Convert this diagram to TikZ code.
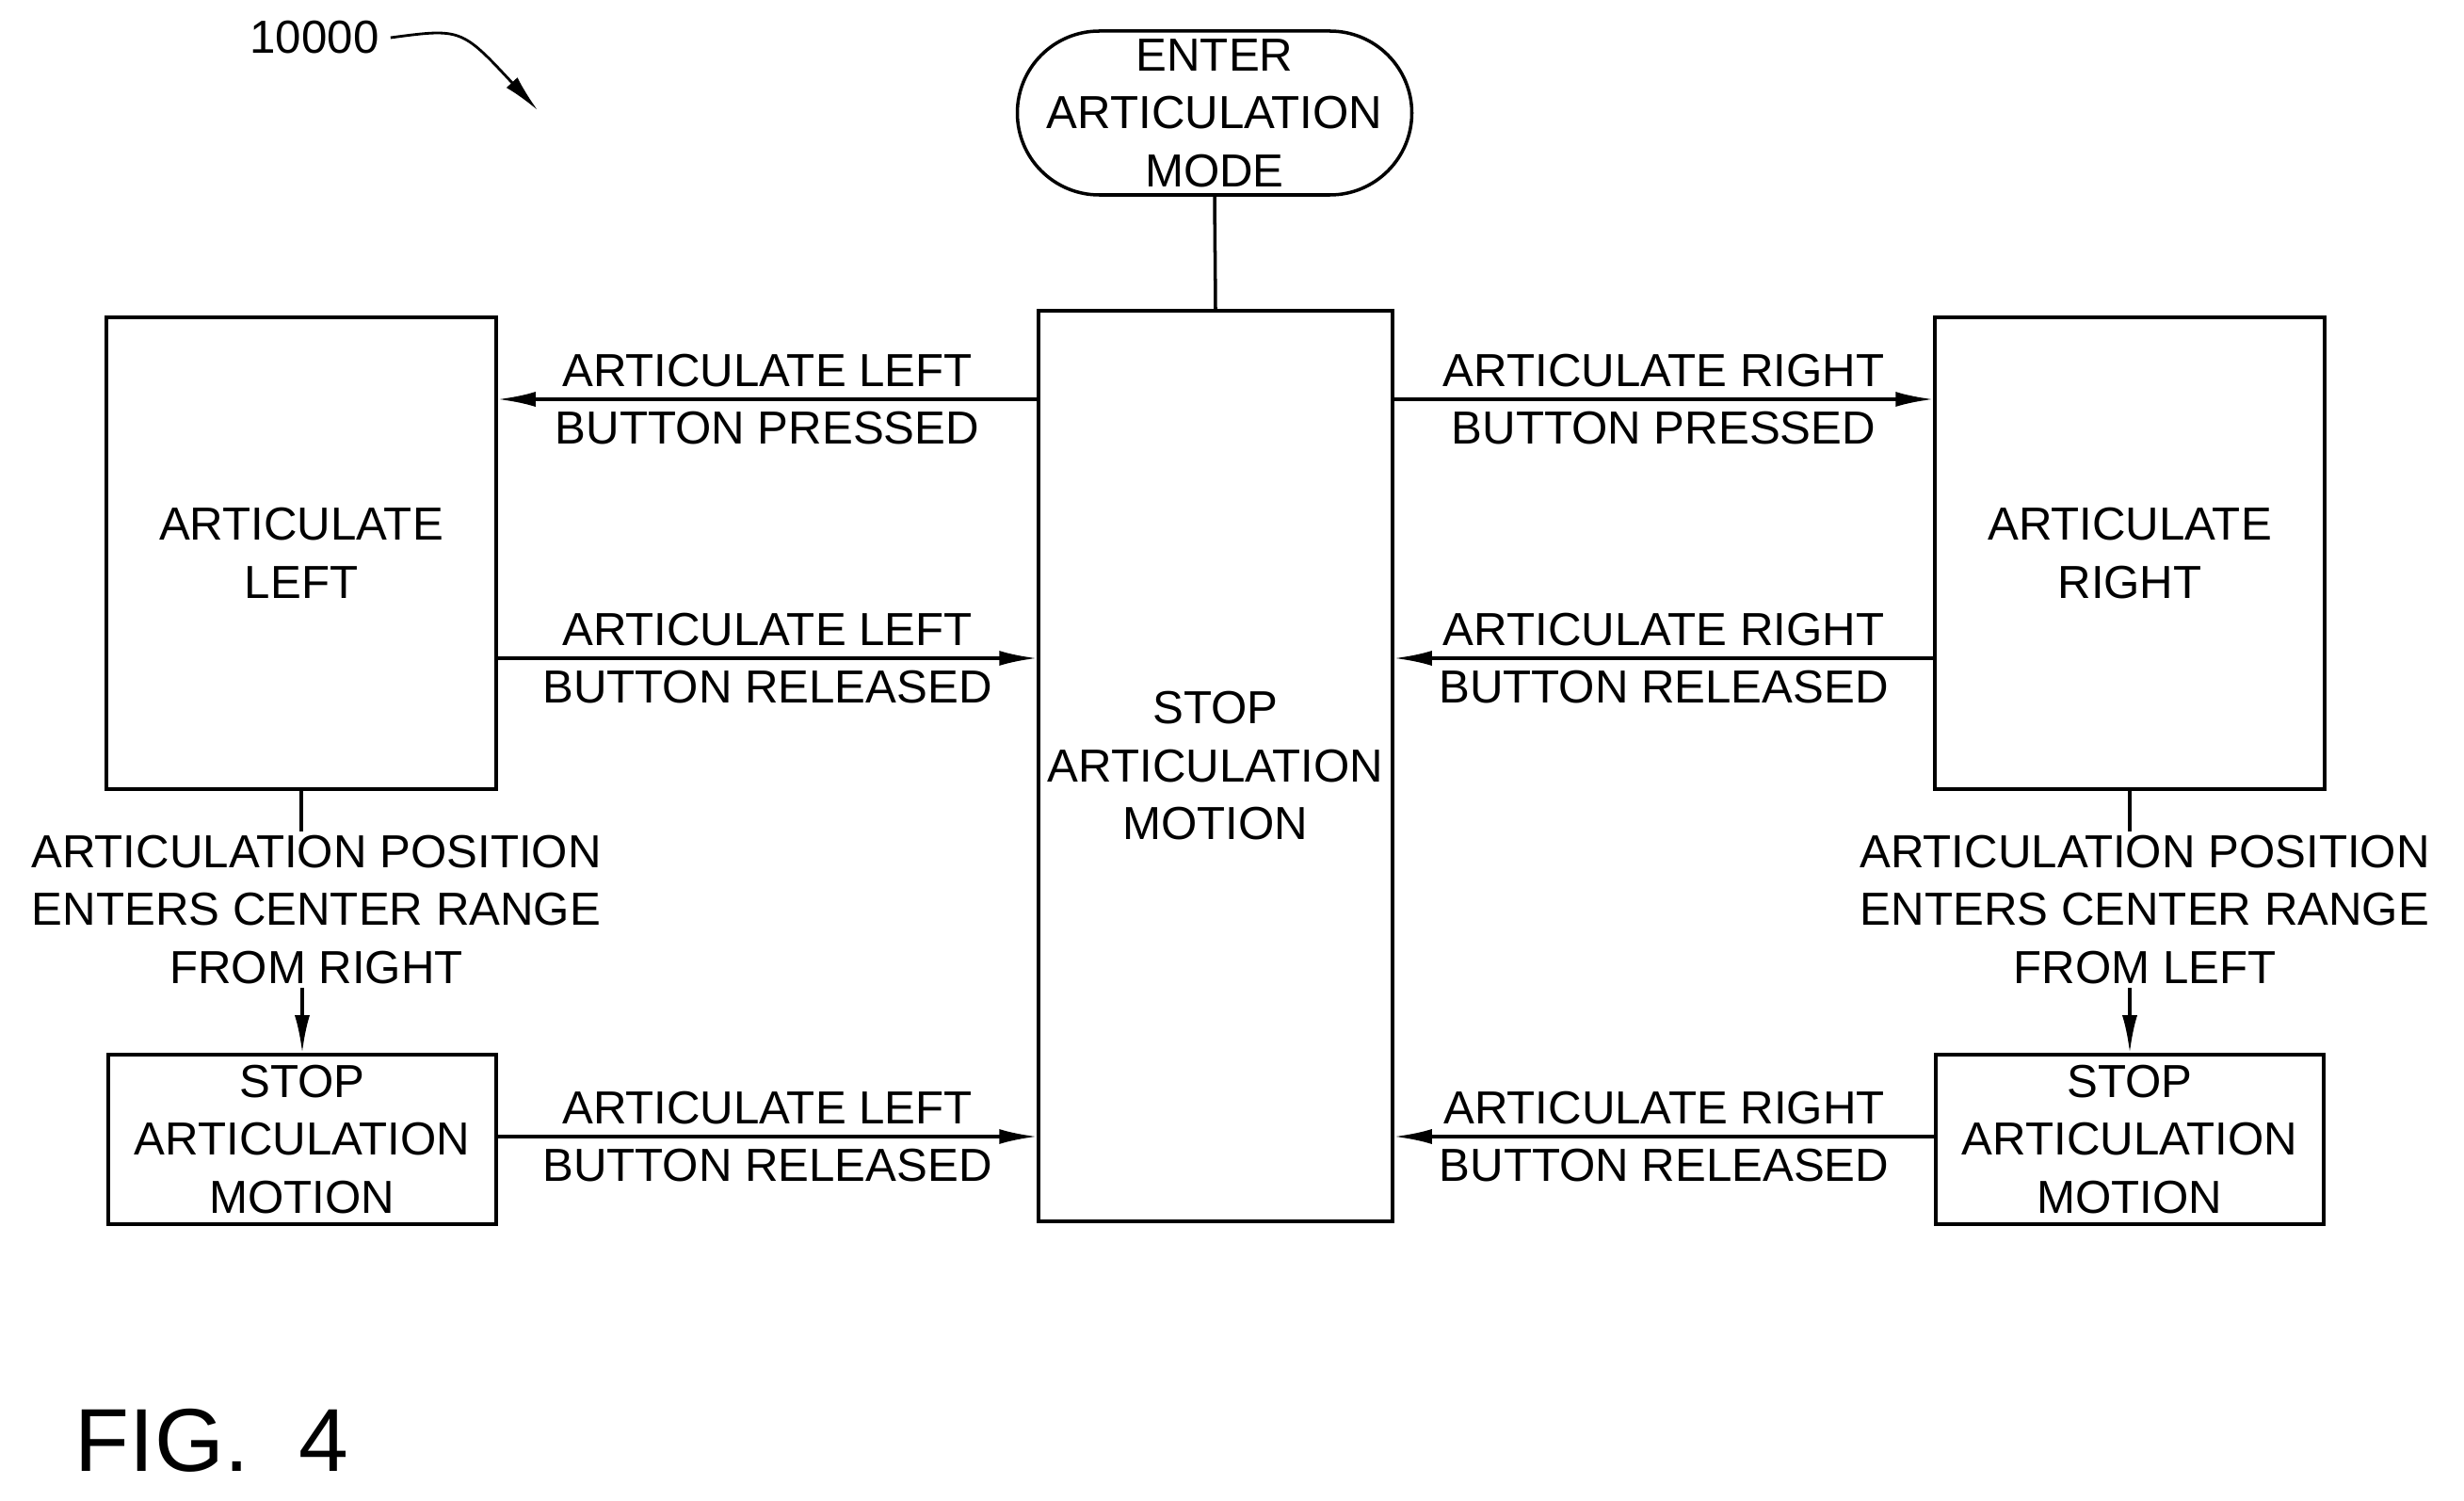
\documentclass[tikz,border=0pt]{standalone}
\usepackage{fontspec}
\setmainfont{Liberation Sans}
\usetikzlibrary{arrows.meta,positioning}
\tikzset{
  box/.style={draw,line width=1pt,align=center,inner sep=0pt},
  lbl/.style={align=center,font=\fontsize{14}{17.5}\selectfont,inner sep=1pt},
  arr/.style={line width=1pt,-{Latex[length=4mm,width=1.6mm]}}
}
\begin{document}
\begin{tikzpicture}[font=\fontsize{14}{17.5}\selectfont]
  \useasboundingbox (0,0) rectangle (26.17,-15.94);

  % States
  \node[box,rounded corners=0.87cm,minimum width=4.19cm,minimum height=1.74cm] (start) at (12.90,-1.20) {ENTER\\ARTICULATION\\MODE};
  \node[box,minimum width=3.76cm,minimum height=9.67cm] (stop) at (12.91,-8.135) {STOP\\ARTICULATION\\MOTION};
  \node[box,minimum width=4.14cm,minimum height=5.01cm] (left) at (3.20,-5.875) {ARTICULATE\\LEFT};
  \node[box,minimum width=4.14cm,minimum height=5.01cm] (right) at (22.62,-5.875) {ARTICULATE\\RIGHT};
  \node[box,minimum width=4.12cm,minimum height=1.80cm] (lstop) at (3.21,-12.10) {STOP\\ARTICULATION\\MOTION};
  \node[box,minimum width=4.12cm,minimum height=1.80cm] (rstop) at (22.62,-12.10) {STOP\\ARTICULATION\\MOTION};

  \draw[line width=1pt] (start.south) -- (stop.north);

  % Transitions to and from the center
  \draw[arr] (stop.west |- 0,-4.24) -- (left.east |- 0,-4.24) node[lbl,midway] {ARTICULATE LEFT\\BUTTON PRESSED};
  \draw[arr] (stop.east |- 0,-4.24) -- (right.west |- 0,-4.24) node[lbl,midway] {ARTICULATE RIGHT\\BUTTON PRESSED};
  \draw[arr] (left.east |- 0,-6.99) -- (stop.west |- 0,-6.99) node[lbl,midway] {ARTICULATE LEFT\\BUTTON RELEASED};
  \draw[arr] (right.west |- 0,-6.99) -- (stop.east |- 0,-6.99) node[lbl,midway] {ARTICULATE RIGHT\\BUTTON RELEASED};
  \draw[arr] (lstop.east |- 0,-12.07) -- (stop.west |- 0,-12.07) node[lbl,midway] {ARTICULATE LEFT\\BUTTON RELEASED};
  \draw[arr] (rstop.west |- 0,-12.07) -- (stop.east |- 0,-12.07) node[lbl,midway] {ARTICULATE RIGHT\\BUTTON RELEASED};

  % Center range transitions
  \node[lbl] (lcenter) at (3.36,-9.66) {ARTICULATION POSITION\\ENTERS CENTER RANGE\\FROM RIGHT};
  \node[lbl] (rcenter) at (22.78,-9.66) {ARTICULATION POSITION\\ENTERS CENTER RANGE\\FROM LEFT};
  \draw[line width=1pt] (left.south) -- (left.south |- lcenter.north);
  \draw[arr] (lcenter.south -| lstop.north) -- (lstop.north);
  \draw[line width=1pt] (right.south) -- (right.south |- rcenter.north);
  \draw[arr] (rcenter.south -| rstop.north) -- (rstop.north);

  % Reference number and figure label
  \node (ref) at (3.34,-0.40) {10000};
  \coordinate (reftip) at (5.71,-1.17);
  \draw[arr,line width=0.8pt] (ref.east) .. controls (4.9,-0.3) .. (reftip);
  \node[font=\fontsize{27}{32}\selectfont] (fig) at (2.25,-15.30) {FIG.\ \ 4};
\end{tikzpicture}
\end{document}
